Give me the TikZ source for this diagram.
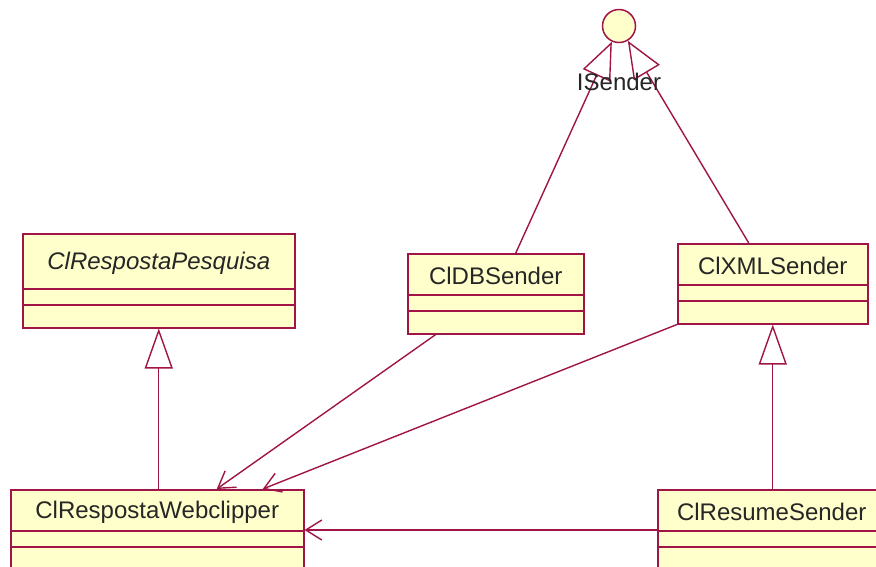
\documentclass[tikz,border=0pt]{standalone}
\usepackage{fontspec}
\setmainfont{Liberation Sans}
\usetikzlibrary{arrows.meta}
\definecolor{umlline}{RGB}{160,20,70}
\definecolor{umlfill}{RGB}{255,255,204}
\tikzset{
  clsbox/.style={draw=umlline, fill=umlfill, line width=1.5pt, rectangle, anchor=north west, inner sep=0pt},
  clstitle/.style={font=\fontsize{24}{27}\selectfont, inner sep=0pt, text=black!85},
  conn/.style={draw=umlline, line width=1.4pt},
  gen/.style={conn, -{Triangle[open, length=40pt, width=28pt, line width=1.4pt]}},
  real/.style={conn, -{Triangle[open, length=37pt, width=30pt, line width=1.4pt]}},
  dep/.style={conn, -{Straight Barb[length=16pt, width=20pt, line width=1.4pt]}},
}
\newcommand{\umlclass}[7]{% name, x, y, w, h, title-h, title
  \node[clsbox, minimum width=#4pt, minimum height=#5pt] (#1) at (#2,#3) {};
  \node[clstitle] (#1-t) at ([yshift=-#6pt/2-2pt]#1.north) {#7};
  \draw[umlline, line width=1.5pt] ([yshift=-#6pt]#1.north west) -- ([yshift=-#6pt]#1.north east);
  \draw[umlline, line width=1.5pt] ([yshift=-#6pt-16pt]#1.north west) -- ([yshift=-#6pt-16pt]#1.north east);
}
\begin{document}
\begin{tikzpicture}[x=1pt, y=-1pt]
\clip (0,0) rectangle (876,566);
\fill[white] (0,0) rectangle (876,566);

\umlclass{pesq}{22}{233}{272}{94}{56}{\itshape ClRespostaPesquisa}
\umlclass{db}{407}{253}{176}{80}{42}{ClDBSender}
\umlclass{xml}{677}{243}{190}{80}{42}{ClXMLSender}
\umlclass{web}{10}{489}{293}{100}{42}{ClRespostaWebclipper}
\umlclass{res}{657}{489}{228}{100}{42}{ClResumeSender}

\node[circle, draw=umlline, fill=umlfill, line width=1.5pt, minimum size=33pt, inner sep=0pt] (iface) at (619,26) {};

% realizations
\draw[real] ([xshift=20pt]db.north) -- (iface);
\draw[real] ([xshift=-24pt]xml.north) -- (iface);
\node[font=\fontsize{24}{27}\selectfont, inner sep=0pt, text=black!85] (ilabel) at (619,82) {ISender};

% generalizations
\draw[gen] (web.north -| pesq.south) -- (pesq.south);
\draw[gen] (res.north -| xml.south) -- (xml.south);

% dependencies
\draw[dep] ([xshift=-60pt]db.south) -- ([xshift=59.5pt]web.north);
\draw[dep] (xml.south west) -- ([xshift=105.5pt]web.north);
\draw[dep] ([yshift=-41pt]res.north west) -- ([yshift=-41pt]web.north east);
\end{tikzpicture}
\end{document}
